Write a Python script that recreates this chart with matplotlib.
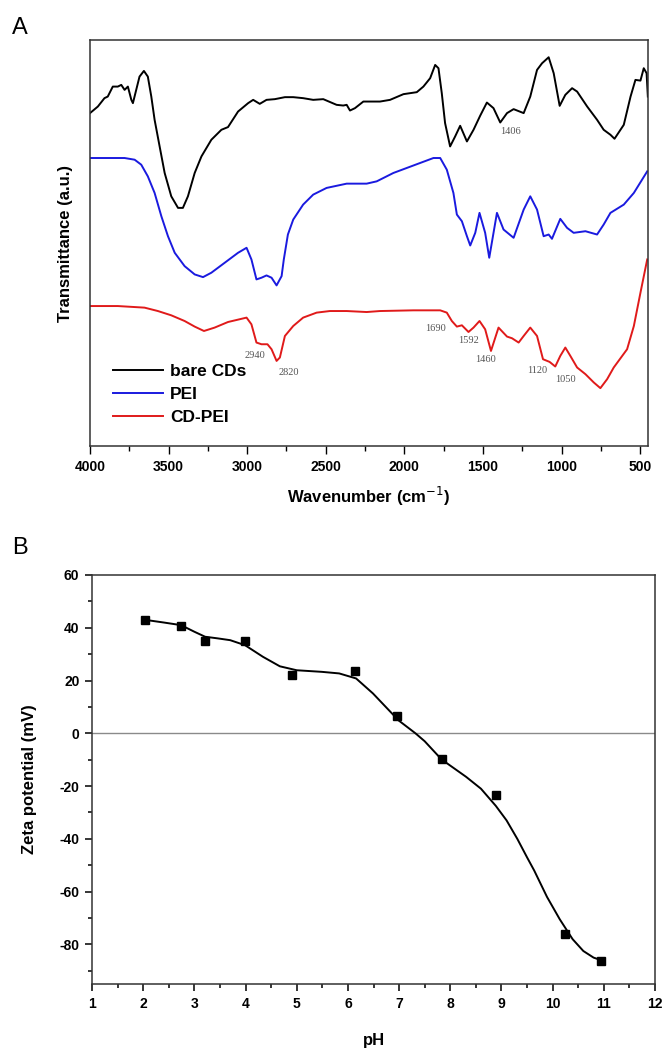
"""FTIR spectra (A) and zeta potential vs pH (B)"""

import matplotlib
matplotlib.use("Agg")
import matplotlib.pyplot as plt
from matplotlib.ticker import MultipleLocator

plt.rcParams['font.family'] = ['Liberation Sans', 'DejaVu Sans']
plt.rcParams['axes.unicode_minus'] = False

# ---- panel A: FTIR, transmittance in arbitrary units ----
bare_wn = [4000, 3950, 3908, 3887, 3855, 3823, 3801, 3780, 3759, 3737, 3727, 3706,
           3685, 3657, 3632, 3610, 3589, 3557, 3525, 3483, 3440, 3409, 3377, 3334,
           3291, 3228, 3164, 3122, 3058, 2994, 2962, 2920, 2877, 2824, 2760, 2707,
           2644, 2580, 2516, 2431, 2389, 2367, 2346, 2314, 2261, 2155, 2091, 2006,
           1921, 1879, 1836, 1804, 1783, 1762, 1741, 1709, 1677, 1645, 1602, 1560,
           1518, 1475, 1433, 1390, 1347, 1305, 1241, 1199, 1156, 1124, 1082, 1050,
           1012, 976, 933, 901, 837, 774, 732, 689, 663, 604, 561, 530, 498, 477,
           459, 451]
bare_t = [333.7, 340.3, 348.7, 350.3, 360.3, 360.3, 362, 357, 360.3, 347, 343.7, 357,
          370.3, 376, 370.3, 350.3, 327, 300.3, 273.7, 250.3, 238.7, 238.7, 250.3, 273.7,
          290.3, 307, 317, 319.7, 335.3, 343.7, 347, 343, 347, 347.7, 349.7, 349.7,
          348.7, 347, 347.7, 342, 341.3, 342, 336.3, 338.7, 345.3, 345.3, 347, 352.7,
          354.7, 360.3, 368.7, 382, 378.7, 353.7, 323.7, 300.3, 310.3, 321, 305.3, 317,
          331, 344.3, 338.7, 324.3, 333.7, 337.7, 333.7, 350.3, 377, 383.7, 389.7, 373.7,
          341, 352, 358.7, 355.3, 340.3, 327, 317, 312, 308, 322, 350.3, 367, 366.3, 378.7,
          373.7, 350.3]

pei_wn = [4000, 3908, 3780, 3716, 3674, 3632, 3589, 3546, 3504, 3461, 3398, 3334,
          3281, 3228, 3143, 3058, 3004, 2973, 2941, 2909, 2877, 2845, 2813, 2781,
          2767, 2741, 2707, 2644, 2580, 2495, 2367, 2240, 2176, 2070, 1985, 1900,
          1815, 1772, 1730, 1688, 1666, 1634, 1602, 1581, 1549, 1522, 1486, 1460,
          1411, 1369, 1305, 1241, 1199, 1156, 1114, 1082, 1061, 1008, 965, 923,
          848, 774, 732, 689, 604, 540, 455]
pei_t = [288.7, 288.7, 288.7, 287, 282, 270.3, 253.7, 230.3, 210.3, 193.7, 180.3, 172,
         169.3, 173.7, 183.7, 193.7, 198.7, 187, 167, 168.7, 171, 168.7, 161, 170.3,
         187, 212, 227, 242, 252, 258.7, 263, 263, 265.3, 273.7, 278.7, 283.7,
         288.7, 288.7, 277, 253.7, 232, 225.3, 210.3, 201, 213.7, 233.7, 213.7, 188.7,
         233.7, 217, 208.7, 237, 250.3, 237, 210.3, 212, 207.7, 227.7, 218.7, 213.7,
         215.3, 212, 222, 233.7, 242, 253.7, 275.3]

cdpei_wn = [4000, 3823, 3653, 3568, 3483, 3398, 3334, 3275, 3207, 3122, 3004, 2973,
            2941, 2909, 2871, 2845, 2813, 2792, 2760, 2707, 2644, 2558, 2474, 2367,
            2240, 2155, 1943, 1772, 1730, 1698, 1666, 1634, 1592, 1560, 1522, 1486,
            1449, 1401, 1347, 1315, 1273, 1241, 1199, 1156, 1118, 1076, 1040, 1008,
            976, 944, 901, 848, 795, 753, 710, 668, 583, 540, 498, 455]
cdpei_t = [140.3, 140.3, 138.7, 135.3, 131, 125.3, 119.7, 115.3, 118.7, 124.3, 128.7, 122,
           103.7, 102, 102, 97, 85.3, 88.7, 110.3, 120.3, 128.7, 133.7, 135.3, 135.3,
           134.3, 135.3, 136, 136, 133.7, 125.3, 119.7, 121, 114.3, 118.7, 125.3, 117,
           95.3, 118.7, 109.7, 108, 103.7, 110.3, 118.7, 110.3, 87, 84.3, 79.7, 90.3,
           98.7, 90.3, 78.7, 72, 63.7, 58, 67, 78.7, 97, 120.3, 153.7, 187]

peak_labels = ['1406', '2940', '2820', '1690', '1592', '1460', '1120', '1050']
peak_wn = [1326, 2952, 2735, 1804, 1594, 1486, 1156, 976]
peak_t = [315.3, 90.3, 74, 118, 105.3, 86.3, 76, 66.3]

wn_ticks = [4000, 3500, 3000, 2500, 2000, 1500, 1000, 500]

# ---- panel B: zeta potential ----
ph = [2.04, 2.74, 3.21, 3.99, 4.90, 6.14, 6.96, 7.83, 8.89, 10.24, 10.95]
zeta = [42.9, 40.6, 35.1, 35.0, 22.0, 23.8, 6.6, -9.9, -23.2, -76.2, -86.2]

fit_ph = [2.04, 2.4, 2.74, 3.0, 3.21, 3.45, 3.7, 3.99, 4.34, 4.67, 5.0, 5.49, 5.83,
          6.16, 6.49, 6.74, 6.99, 7.32, 7.5, 7.83, 8.31, 8.6, 8.89, 9.1, 9.31, 9.5,
          9.64, 9.89, 10.14, 10.39, 10.6, 10.8, 10.95]
fit_zeta = [43, 42, 41, 38.5, 36.6, 36, 35.3, 33.4, 29, 25.4, 23.9, 23.3, 22.7,
            20.8, 15.1, 10, 4.9, 0, -3, -9.9, -16.5, -21, -27.5, -33, -40, -47,
            -52, -62, -70.5, -78, -82.5, -85, -86]

W, H = 662, 1049
BOLD = dict(fontweight='bold')


def panel_a(fig):
    ax = fig.add_axes([90 / W, 1 - 446 / H, 558 / W, 406 / H])
    ax.plot(bare_wn, bare_t, color='black', lw=1.4, label='bare CDs')
    ax.plot(pei_wn, pei_t, color='#1a1adf', lw=1.4, label='PEI')
    ax.plot(cdpei_wn, cdpei_t, color='#e01a1a', lw=1.4, label='CD-PEI')

    for lab, x, y in zip(peak_labels, peak_wn, peak_t):
        ax.text(x, y, lab, ha='center', va='center', fontsize=7.5, color='#555555',
                family=['Liberation Serif', 'DejaVu Serif'])

    ax.set_xlim(4000, 450)
    ax.set_ylim(0, 407)
    ax.set_xticks(wn_ticks)
    ax.xaxis.set_minor_locator(MultipleLocator(250))
    ax.set_yticks([])
    ax.tick_params(axis='x', which='major', direction='out', length=6, width=1,
                   labelsize=10, pad=4)
    ax.tick_params(axis='x', which='minor', direction='out', length=3.5, width=1)
    for t in ax.get_xticklabels():
        t.set_fontweight('bold')
    for s in ax.spines.values():
        s.set_color('#333333')
        s.set_linewidth(1.1)

    ax.set_xlabel('Wavenumber (cm$^{-1}$)', fontsize=12, labelpad=8, **BOLD)
    ax.set_ylabel('Transmittance (a.u.)', fontsize=12, labelpad=12, **BOLD)

    ax.legend(loc='lower left', bbox_to_anchor=(0.025, 0.03), frameon=False,
              prop=dict(size=12.5, weight='bold'), handlelength=2.9,
              handletextpad=0.4, labelspacing=0.45, borderpad=0)
    fig.text(12 / W, 1 - 28 / H, 'A', fontsize=17, va='center', ha='left')


def panel_b(fig):
    ax = fig.add_axes([92 / W, 1 - 984 / H, 563 / W, 409 / H])
    ax.axhline(0, color='#8a8a8a', lw=1.0, zorder=1)
    ax.plot(fit_ph, fit_zeta, color='black', lw=1.4, zorder=2)
    ax.plot(ph, zeta, ls='none', marker='s', ms=5.8, color='black', zorder=3)

    ax.set_xlim(1, 12)
    ax.set_ylim(-95, 60)
    ax.xaxis.set_major_locator(MultipleLocator(1))
    ax.xaxis.set_minor_locator(MultipleLocator(0.5))
    ax.yaxis.set_major_locator(MultipleLocator(20))
    ax.yaxis.set_minor_locator(MultipleLocator(10))
    ax.tick_params(which='major', direction='out', length=5, width=1.1,
                   labelsize=10, pad=4)
    ax.tick_params(which='minor', direction='out', length=3, width=1.1)
    for t in ax.get_xticklabels() + ax.get_yticklabels():
        t.set_fontweight('bold')
        t.set_family(['Liberation Sans Narrow', 'Liberation Sans', 'DejaVu Sans'])
    for s in ax.spines.values():
        s.set_color('#333333')
        s.set_linewidth(1.1)

    ax.set_xlabel('pH', fontsize=12, labelpad=16, **BOLD)
    ax.set_ylabel('Zeta potential (mV)', fontsize=12, labelpad=16, **BOLD)
    fig.text(12 / W, 1 - 548 / H, 'B', fontsize=17, va='center', ha='left')


def main():
    fig = plt.figure(figsize=(W / 100, H / 100), dpi=100)
    panel_a(fig)
    panel_b(fig)
    fig.savefig('out.png', dpi=100)
    plt.close(fig)


if __name__ == "__main__":
    main()
